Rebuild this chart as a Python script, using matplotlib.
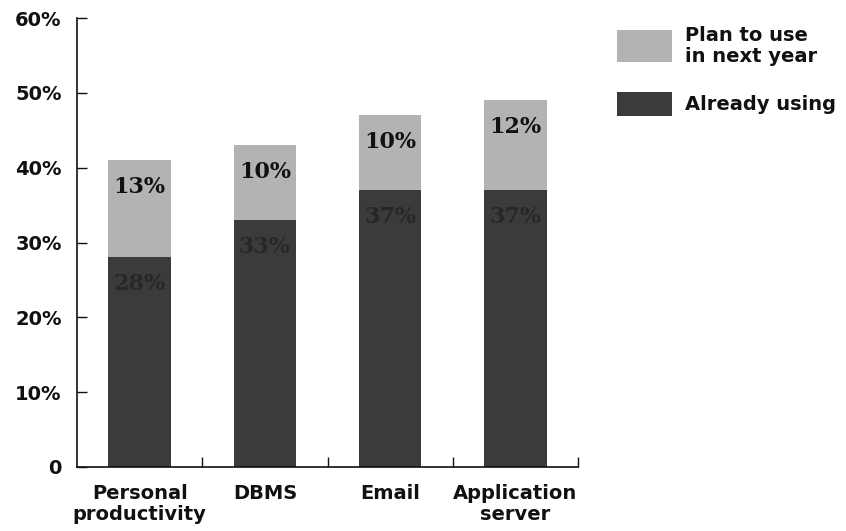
import matplotlib
matplotlib.use("Agg")
import matplotlib.pyplot as plt
from matplotlib.patches import Rectangle
from matplotlib.ticker import FixedLocator, FuncFormatter

# chart data
categories = ["Personal\nproductivity", "DBMS", "Email", "Application\nserver"]
already_using = [28, 33, 37, 37]
plan_next_year = [13, 10, 10, 12]
y_ticks = [0, 10, 20, 30, 40, 50, 60]

DARK = "#3b3b3b"
LIGHT = "#b3b3b3"
W, H = 846, 531

fig = plt.figure(figsize=(W / 100, H / 100), dpi=100)
ax = fig.add_axes([77 / W, 1 - 467 / H, (578 - 77) / W, (467 - 18) / H])

x = list(range(len(categories)))
ax.bar(x, already_using, width=0.5, color=DARK, linewidth=0)
ax.bar(x, plan_next_year, width=0.5, bottom=already_using, color=LIGHT, linewidth=0)

# value labels sit just under the top of each segment
for i in x:
    top_dark = already_using[i]
    top_all = already_using[i] + plan_next_year[i]
    ax.text(i, top_dark - 3.6, f"{already_using[i]}%", ha="center", va="center",
            family="DejaVu Serif", weight="heavy", fontsize=16, color="#272727")
    ax.text(i, top_all - 3.6, f"{plan_next_year[i]}%", ha="center", va="center",
            family="DejaVu Serif", weight="heavy", fontsize=16, color="#111111")

ax.set_xlim(-0.5, 3.5)
ax.set_ylim(0, 60)
ax.set_yticks(y_ticks)
ax.yaxis.set_major_formatter(FuncFormatter(lambda v, p: "0" if v == 0 else f"{v:.0f}%"))
ax.set_xticks(x)
ax.set_xticklabels(categories, linespacing=1.15)
ax.xaxis.set_minor_locator(FixedLocator([0.5, 1.5, 2.5, 3.5]))

for side in ("top", "right"):
    ax.spines[side].set_visible(False)
for side in ("left", "bottom"):
    ax.spines[side].set_linewidth(1.2)
    ax.spines[side].set_color("#111111")

ax.tick_params(axis="y", direction="in", length=7, width=1, pad=11,
               labelsize=14, colors="#111111")
ax.tick_params(axis="x", which="major", length=0, pad=12, labelsize=14,
               colors="#111111")
ax.tick_params(axis="x", which="minor", direction="in", length=7, width=1,
               colors="#111111")
for lbl in ax.get_xticklabels() + ax.get_yticklabels():
    lbl.set_fontweight("bold")

# legend drawn in figure pixels
def fx(px):
    return px / W

def fy(py):
    return 1 - py / H

fig.add_artist(Rectangle((fx(617), fy(62)), fx(672) - fx(617), fy(30) - fy(62),
                         transform=fig.transFigure, color=LIGHT, linewidth=0))
fig.add_artist(Rectangle((fx(617), fy(116)), fx(672) - fx(617), fy(92) - fy(116),
                         transform=fig.transFigure, color=DARK, linewidth=0))
fig.text(fx(685), fy(46), "Plan to use\nin next year", ha="left", va="center",
         fontsize=14, weight="bold", color="#111111", linespacing=1.15)
fig.text(fx(685), fy(104), "Already using", ha="left", va="center",
         fontsize=14, weight="bold", color="#111111")

fig.savefig("out.png", dpi=100)
